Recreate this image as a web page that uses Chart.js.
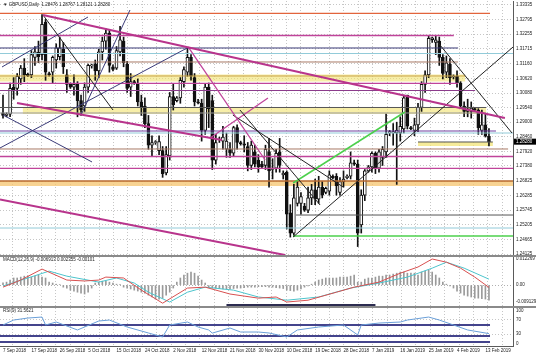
<!DOCTYPE html>
<html>
<head>
<meta charset="utf-8">
<script src="https://cdn.jsdelivr.net/npm/chart.js@4.4.0/dist/chart.umd.min.js"></script>
<style>
  html, body { margin: 0; padding: 0; background: #fff; }
  #wrap { position: relative; width: 536px; height: 358px; overflow: hidden; background: #fff; }
  #wrap canvas { position: absolute; left: 0; }
  .sep { position: absolute; left: 0; width: 536px; background: #8a8a8a; z-index: 5; }
</style>
</head>
<body>
<div id="wrap">
  <canvas id="mainChart" width="536" height="267" style="top:-5px"></canvas>
  <canvas id="macdChart" width="536" height="61" style="top:251px"></canvas>
  <canvas id="rsiChart" width="536" height="56" style="top:302px"></canvas>
  <div class="sep" style="top:255px;height:2px"></div>
  <div class="sep" style="top:306px;height:2px"></div>
</div>
<script>
// GBPUSD daily bars, 7 Sep 2018 .. 14 Feb 2019 (broker has Sunday bars)
var opens = [
  1.2935,1.2925,1.2930,1.3030,1.3025,1.3060,1.3100,1.3078,1.3075,1.3140,
  1.3158,1.3150,1.3270,1.3080,1.3085,1.3130,1.3142,1.3170,1.3075,1.3040,
  1.3030,1.3040,1.2980,1.2960,1.3030,1.3108,1.3115,1.3090,1.3160,1.3200,
  1.3230,1.3105,1.3100,1.3160,1.3200,1.3115,1.3030,1.3050,1.3045,1.2975,
  1.2960,1.2895,1.2815,1.2825,1.2795,1.2795,1.2712,1.2775,1.2995,1.2980,
  1.2990,1.3050,1.3085,1.3140,1.3065,1.2975,1.2970,1.2870,1.3030,1.2980,
  1.2760,1.2835,1.2830,1.2800,1.2800,1.2785,1.2880,1.2825,1.2820,1.2810,
  1.2740,1.2790,1.2760,1.2745,1.2740,1.2790,1.2725,1.2730,1.2790,1.2705,
  1.2715,1.2565,1.2490,1.2600,1.2600,1.2590,1.2575,1.2620,1.2650,1.2615,
  1.2660,1.2640,1.2645,1.2700,1.2700,1.2640,1.2680,1.2695,1.2700,1.2750,
  1.2745,1.2520,1.2630,1.2720,1.2735,1.2785,1.2730,1.2770,1.2790,1.2860,
  1.2860,1.2860,1.2860,1.2875,1.3000,1.2880,1.2870,1.2890,1.2955,1.3040,
  1.3075,1.3205,1.3195,1.3200,1.3140,1.3085,1.3115,1.3068,1.3070,1.3045,
  1.2960,1.2940,1.2940,1.2950,1.2945,1.2870,1.2890,1.28476
];
var highs = [
  1.3000,1.2935,1.3045,1.3065,1.3080,1.3110,1.3135,1.3082,1.3165,1.3180,
  1.3200,1.3298,1.3280,1.3085,1.3145,1.3190,1.3215,1.3195,1.3095,1.3045,
  1.3075,1.3050,1.3000,1.3045,1.3115,1.3115,1.3130,1.3170,1.3215,1.3245,
  1.3240,1.3112,1.3180,1.3255,1.3215,1.3125,1.3080,1.3055,1.3060,1.3000,
  1.2990,1.2925,1.2850,1.2832,1.2850,1.2810,1.2810,1.3010,1.3040,1.2995,
  1.3065,1.3105,1.3175,1.3150,1.3080,1.2985,1.2985,1.3040,1.3045,1.3000,
  1.2855,1.2845,1.2885,1.2860,1.2825,1.2885,1.2890,1.2830,1.2850,1.2825,
  1.2830,1.2815,1.2780,1.2755,1.2815,1.2840,1.2765,1.2800,1.2840,1.2720,
  1.2720,1.2595,1.2670,1.2685,1.2640,1.2600,1.2660,1.2670,1.2690,1.2700,
  1.2680,1.2660,1.2720,1.2705,1.2710,1.2695,1.2720,1.2705,1.2790,1.2760,
  1.2760,1.2650,1.2725,1.2740,1.2790,1.2790,1.2800,1.2810,1.2930,1.2870,
  1.2895,1.2900,1.2920,1.3000,1.3000,1.2885,1.2915,1.2970,1.3050,1.3090,
  1.3218,1.3215,1.3218,1.3215,1.3150,1.3145,1.3135,1.3075,1.3090,1.3050,
  1.2975,1.2985,1.2975,1.2955,1.2950,1.2945,1.2930,1.28767
];
var lows = [
  1.2915,1.2920,1.2920,1.2985,1.3000,1.3040,1.3050,1.3068,1.3065,1.3110,
  1.3120,1.3130,1.3055,1.3070,1.3045,1.3100,1.3130,1.3080,1.3010,1.3025,
  1.3000,1.2920,1.2925,1.2940,1.3010,1.3100,1.3055,1.3065,1.3130,1.3170,
  1.3085,1.3090,1.3095,1.3145,1.3105,1.3010,1.2995,1.3040,1.2960,1.2925,
  1.2880,1.2800,1.2775,1.2818,1.2780,1.2696,1.2705,1.2760,1.2945,1.2975,
  1.2970,1.3030,1.3070,1.3055,1.2960,1.2968,1.2830,1.2855,1.2880,1.2725,
  1.2745,1.2825,1.2800,1.2770,1.2770,1.2775,1.2800,1.2815,1.2790,1.2720,
  1.2725,1.2735,1.2715,1.2730,1.2725,1.2660,1.2690,1.2715,1.2715,1.2690,
  1.2505,1.2475,1.2477,1.2590,1.2560,1.2570,1.2565,1.2595,1.2595,1.2600,
  1.2620,1.2635,1.2630,1.2690,1.2630,1.2630,1.2660,1.2690,1.2690,1.2740,
  1.2440,1.2490,1.2610,1.2715,1.2715,1.2710,1.2715,1.2740,1.2770,1.2850,
  1.2815,1.2670,1.2830,1.2860,1.2875,1.2872,1.2850,1.2865,1.2940,1.3010,
  1.3065,1.3195,1.3150,1.3110,1.3060,1.3065,1.3040,1.3060,1.3030,1.2950,
  1.2920,1.2920,1.2915,1.2942,1.2855,1.2855,1.2845,1.28121
];
var closes = [
  1.2925,1.2930,1.3025,1.3020,1.3070,1.3100,1.3075,1.3072,1.3150,1.3160,
  1.3142,1.3262,1.3085,1.3075,1.3140,1.3175,1.3175,1.3105,1.3040,1.3030,
  1.3040,1.2980,1.2945,1.3030,1.3110,1.3112,1.3090,1.3160,1.3200,1.3230,
  1.3110,1.3095,1.3165,1.3205,1.3120,1.3025,1.3050,1.3045,1.2975,1.2955,
  1.2895,1.2815,1.2825,1.2828,1.2828,1.2710,1.2780,1.2995,1.2965,1.2990,
  1.3055,1.3095,1.3140,1.3070,1.2975,1.2972,1.2870,1.3030,1.2950,1.2760,
  1.2825,1.2838,1.2845,1.2830,1.2785,1.2880,1.2825,1.2820,1.2815,1.2740,
  1.2815,1.2745,1.2735,1.2735,1.2800,1.2720,1.2730,1.2785,1.2740,1.2712,
  1.2560,1.2490,1.2620,1.2660,1.2625,1.2575,1.2620,1.2650,1.2615,1.2660,
  1.2630,1.2655,1.2705,1.2695,1.2665,1.2680,1.2690,1.2700,1.2750,1.2745,
  1.2490,1.2630,1.2720,1.2735,1.2785,1.2730,1.2790,1.2800,1.2855,1.2865,
  1.2865,1.2870,1.2885,1.2990,1.2885,1.2876,1.2890,1.2955,1.3040,1.3075,
  1.3210,1.3212,1.3205,1.3140,1.3080,1.3120,1.3065,1.3070,1.3045,1.2960,
  1.2940,1.2945,1.2952,1.2946,1.2880,1.2890,1.2848,1.28280
];

// time axis labels (bar index where each label sits)
var dateIdx  = [0, 8, 16, 24, 32, 40, 48, 56, 64, 72, 80, 88, 96, 104, 112, 120, 128, 136];
var dateText = ['7 Sep 2018', '17 Sep 2018', '26 Sep 2018', '5 Oct 2018', '15 Oct 2018', '24 Oct 2018',
  '2 Nov 2018', '12 Nov 2018', '21 Nov 2018', '30 Nov 2018', '10 Dec 2018', '19 Dec 2018',
  '28 Dec 2018', '7 Jan 2019', '16 Jan 2019', '25 Jan 2019', '4 Feb 2019', '13 Feb 2019'];

var priceLabels = ['1.33335', '1.32795', '1.32255', '1.31715', '1.31160', '1.30620', '1.30080', '1.29540',
  '1.29000', '1.28460', '1.27920', '1.27380', '1.26825', '1.26285', '1.25745', '1.25205', '1.24665', '1.24125'];

// MACD histogram, one value per bar
var macdHist = [
  0.0010,0.0013,0.0022,0.0031,0.0031,0.0035,0.0039,0.0039,0.0035,0.0039,
  0.0044,0.0035,0.0031,0.0013,0.0009,0.0004,0.0002,-0.0009,-0.0013,-0.0022,
  -0.0026,-0.0031,-0.0035,-0.0039,-0.0031,-0.0013,0.0009,0.0013,0.0017,0.0017,
  0.0013,0.0009,0.0004,0.0002,-0.0009,-0.0013,-0.0017,-0.0022,-0.0026,-0.0031,
  -0.0035,-0.0044,-0.0052,-0.0061,-0.0061,-0.0057,-0.0044,-0.0031,-0.0013,0.0013,
  0.0031,0.0044,0.0052,0.0057,0.0052,0.0039,0.0022,0.0009,-0.0009,-0.0013,
  -0.0013,-0.0015,-0.0017,-0.0017,-0.0017,-0.0015,-0.0013,-0.0013,-0.0011,-0.0009,
  -0.0009,-0.0009,-0.0007,-0.0007,-0.0007,-0.0009,-0.0009,-0.0011,-0.0013,-0.0015,
  -0.0022,-0.0024,-0.0026,-0.0022,-0.0017,-0.0009,-0.0004,0.0004,0.0013,0.0022,
  0.0026,0.0031,0.0031,0.0031,0.0031,0.0035,0.0035,0.0035,0.0039,0.0044,
  0.0013,0.0013,0.0026,0.0031,0.0031,0.0035,0.0039,0.0039,0.0044,0.0044,
  0.0048,0.0052,0.0057,0.0057,0.0052,0.0052,0.0052,0.0044,0.0057,0.0061,
  0.0066,0.0057,0.0044,0.0031,0.0013,0.0004,-0.0004,-0.0013,-0.0026,-0.0035,
  -0.0044,-0.0048,-0.0052,-0.0057,-0.0057,-0.0059,-0.0061,-0.0066
];
var macdRedIdx = [0, 5, 11, 18, 23, 27, 29, 34, 39, 45, 52, 57, 64, 72, 77, 80, 86, 94, 99, 106, 112, 117, 121, 125, 129, 133, 137];
var macdRed = [-0.0009, 0.0022, 0.0070, 0.0022, 0.0018, 0.0022, 0.0035, 0.0031, -0.0022, -0.0079, -0.0013, -0.0009,
  -0.0039, -0.0057, -0.0052, -0.0074, -0.0066, -0.0031, -0.0009, 0.0013, 0.0052, 0.0079, 0.0114, 0.0100, 0.0074, 0.0035, -0.0010];
var macdTealIdx = [0, 13, 18, 27, 32, 37, 41, 47, 52, 57, 65, 72, 75, 80, 89, 98, 106, 114, 121, 125, 130, 137];
var macdTeal = [-0.0004, 0.0061, 0.0039, 0.0013, 0.0031, 0.0009, -0.0031, -0.0074, -0.0031, -0.0009, -0.0022, -0.0052,
  -0.0057, -0.0066, -0.0052, -0.0013, 0.0009, 0.0035, 0.0074, 0.0100, 0.0074, 0.0026];
var macdAxisText = ['0.012269', '0.00', '-0.009129'];

var rsiIdx = [0, 3, 7, 11, 12, 15, 21, 27, 30, 35, 41, 45, 47, 52, 55, 58, 59, 64, 67, 72, 75, 80, 83, 89, 96, 100, 101, 106, 112, 114, 120, 123, 127, 131, 137];
var rsiVals = [55.6, 69.4, 75, 77.8, 55.6, 63.9, 41.7, 66.7, 69.4, 50, 33.3, 22.2, 55.6, 63.9, 50, 41.7, 33, 47.2, 36, 36,
  33.3, 22.2, 41.7, 50, 55.6, 27.8, 55.6, 61, 63.9, 69.4, 77.8, 69.4, 55.6, 41.7, 31.56];
var rsiAxisText = ['100', '70', '30', '0'];
var rsiLevels = [55.6, 25, 8.3];

// drawn objects on the price chart: horizontal levels, shaded zones and trend lines
var levels = [
  { p: 1.33028, from: -1, to: 137.3, s: 'orange' },
  { p: 1.32207, from: -1, to: 127.1, s: 'magenta' },
  { p: 1.31745, from: -1, to: 128.3, s: 'navy' },
  { p: 1.31541, from: -1, to: 145, s: 'teal' },
  { p: 1.31227, from: -1, to: 128.3, s: 'brown' },
  { p: 1.30709, from: -1, to: 130.3, s: 'olive' },
  { p: 1.30439, from: -1, to: 128.3, s: 'magenta' },
  { p: 1.30173, from: -1, to: 133.1, s: 'purple' },
  { p: 1.29544, from: -1, to: 136.2, s: 'gray' },
  { p: 1.29340, from: -1, to: 136.2, s: 'lightGray' },
  { p: 1.28675, from: -1, to: 139, s: 'violet' },
  { p: 1.28600, from: -1, to: 145, s: 'teal' },
  { p: 1.28268, from: 117, to: 138.1, s: 'gray' },
  { p: 1.28009, from: -1, to: 142.4, s: 'brown' },
  { p: 1.27731, from: -1, to: 145, s: 'magenta' },
  { p: 1.27295, from: -1, to: 145, s: 'magenta' },
  { p: 1.26825, from: -1, to: 145, s: 'rust' },
  { p: 1.25567, from: 82.6, to: 145, s: 'gray' },
  { p: 1.25086, from: -1, to: 145, s: 'teal' },
  { p: 1.24791, from: 81.8, to: 145, s: 'green' }
];
var zones = [
  { p: 1.30635, from: -1, to: 130.3, s: 'yellowWide' },
  { p: 1.29414, from: 5.6, to: 136.2, s: 'yellowMid' },
  { p: 1.28194, from: 117, to: 138.1, s: 'yellowNarrow' },
  { p: 1.26733, from: -1, to: 145, s: 'orangeZone' }
];
var trends = [
  { i1: 11.28, p1: 1.32965, i2: 141.5, p2: 1.29155, s: 'magentaThick' },
  { i1: 3.95, p1: 1.29710, i2: 61.7, p2: 1.28342, s: 'magentaThick' },
  { i1: -0.85, p1: 1.26145, i2: 79.5, p2: 1.24088, s: 'magentaThick' },
  { i1: 11.28, p1: 1.32965, i2: 31.0, p2: 1.29451, s: 'dark' },
  { i1: -0.28, p1: 1.31042, i2: 23.96, p2: 1.32891, s: 'navy' },
  { i1: -0.85, p1: 1.28046, i2: 51.9, p2: 1.31745, s: 'navy' },
  { i1: 0, p1: 1.29266, i2: 25.1, p2: 1.27528, s: 'navy' },
  { i1: 21.99, p1: 1.29266, i2: 35.8, p2: 1.33150, s: 'navy' },
  { i1: 52.2, p1: 1.31782, i2: 73.9, p2: 1.27602, s: 'magenta' },
  { i1: 64.8, p1: 1.29266, i2: 95.9, p2: 1.26603, s: 'dark' },
  { i1: 66.8, p1: 1.29451, i2: 89.4, p2: 1.25937, s: 'dark' },
  { i1: 58.4, p1: 1.28416, i2: 74.7, p2: 1.29895, s: 'magenta' },
  { i1: 81.8, p1: 1.24754, i2: 143.8, p2: 1.31782, s: 'dark' },
  { i1: 81.8, p1: 1.26751, i2: 113.3, p2: 1.29377, s: 'green' },
  { i1: 121.8, p1: 1.32077, i2: 143.5, p2: 1.28600, s: 'dark' }
];
var macdMarks = [{ i1: 63, i2: 105, v: -0.0087 }];

var styles = {
  orange: { color: '#e2643c', width: 1.2 },
  magenta: { color: '#c0449a', width: 1.3 },
  magentaThick: { color: '#b8348c', width: 2 },
  navy: { color: '#3b3b78', width: 1 },
  teal: { color: '#92cbd9', width: 1 },
  brown: { color: '#a87a66', width: 1 },
  olive: { color: '#c9a24a', width: 1 },
  purple: { color: '#8c3c8c', width: 1.2 },
  gray: { color: '#555555', width: 1 },
  lightGray: { color: '#999999', width: 1 },
  violet: { color: '#7040a0', width: 1.2 },
  rust: { color: '#b86a30', width: 1.5 },
  green: { color: '#4cd04c', width: 1.5 },
  dark: { color: '#222222', width: 1 },
  yellowWide: { color: 'rgba(242,226,110,0.6)', width: 7 },
  yellowMid: { color: 'rgba(242,226,110,0.6)', width: 6 },
  yellowNarrow: { color: 'rgba(242,226,110,0.7)', width: 4 },
  orangeZone: { color: 'rgba(246,196,110,0.75)', width: 5 },
  macdMark: { color: '#2c2c50', width: 2 },
  rsiLevel: { color: '#44448c', width: 2 }
};

var FONT = "'Liberation Sans', Arial, sans-serif";
var FS = 4.5;
var AXIS_W = 23;
var X_MIN = -0.846, X_MAX = 143.78;
var P_MIN = 1.240511, P_MAX = 1.334829;

var gridIdx = [];
for (var g = 2.73; g < X_MAX; g += 4.06) gridIdx.push(g);

function segment(x1, y1, x2, y2, st, order) {
  return {
    type: 'line',
    data: [{ x: x1, y: y1 }, { x: x2, y: y2 }],
    borderColor: st.color,
    borderWidth: st.width,
    pointRadius: 0,
    fill: false,
    tension: 0,
    order: order
  };
}

function xGridScale() {
  return {
    type: 'linear', min: X_MIN, max: X_MAX, offset: false,
    afterBuildTicks: function (s) { s.ticks = gridIdx.map(function (v) { return { value: v }; }); },
    afterFit: function (s) { s.height = 0; },
    ticks: { display: false },
    grid: { color: '#c6c6c6', drawTicks: false, offset: false },
    border: { display: false, dash: [1, 2] }
  };
}

function yAxis(min, max, tickPos, tickText, gridColor) {
  return {
    type: 'linear', position: 'right', min: min, max: max, beginAtZero: false,
    afterBuildTicks: function (s) { s.ticks = tickPos.map(function (v) { return { value: v }; }); },
    afterFit: function (s) { s.width = AXIS_W; },
    ticks: { padding: 3, color: '#222', callback: function (v, i) { return tickText[i]; } },
    grid: { drawTicks: false, color: gridColor },
    border: { display: true, color: '#5a5a5a', width: 1, dash: [1, 2] }
  };
}

var panelText = {
  id: 'panelText',
  afterDraw: function (chart, args, opts) {
    var ctx = chart.ctx, area = chart.chartArea;
    ctx.save();
    ctx.font = FS + 'px ' + FONT;
    ctx.textBaseline = 'middle';
    ctx.fillStyle = '#222';
    if (opts.title) ctx.fillText(opts.title, area.left + 3, area.top + opts.titleDy);
    if (opts.lastPrice) {
      var y = chart.scales.y.getPixelForValue(opts.lastPrice);
      ctx.fillStyle = '#000';
      ctx.fillRect(area.right + 1, y - 3, AXIS_W - 1, 6);
      ctx.fillStyle = '#fff';
      ctx.fillText(opts.lastPrice.toFixed(5), area.right + 3, y + 0.3);
    }
    ctx.restore();
  }
};

Chart.defaults.font.family = FONT;
Chart.defaults.font.size = FS;
Chart.defaults.color = '#222';

var baseOptions = function (pad, textOpts) {
  return {
    responsive: false, animation: false, events: [],
    layout: { padding: pad },
    plugins: { legend: { display: false }, tooltip: { enabled: false }, panelText: textOpts }
  };
};

// ---------- price chart ----------
var mainSets = [];
mainSets.push({
  type: 'bar',
  data: opens.map(function (o, i) { return { x: i, y: [o, closes[i]] }; }),
  backgroundColor: opens.map(function (o, i) { return closes[i] >= o ? '#ffffff' : '#111111'; }),
  borderColor: '#111111', borderWidth: 1, borderSkipped: false,
  barThickness: 3, grouped: false, order: 4
});
mainSets.push({
  type: 'bar',
  data: lows.map(function (l, i) { return { x: i, y: [l, highs[i]] }; }),
  backgroundColor: '#111111', barThickness: 1, grouped: false, order: 5
});
zones.forEach(function (z) { mainSets.push(segment(z.from, z.p, z.to, z.p, styles[z.s], 10)); });
levels.forEach(function (l) { mainSets.push(segment(l.from, l.p, l.to, l.p, styles[l.s], 2)); });
trends.forEach(function (t) { mainSets.push(segment(t.i1, t.p1, t.i2, t.p2, styles[t.s], 1)); });

var mainOpts = baseOptions({ top: 6, bottom: 6, left: 0, right: 0 },
  { title: '\u25BC GBPUSD,Daily  1.28476 1.28767 1.28121 1.28280', titleDy: 4, lastPrice: closes[closes.length - 1] });
mainOpts.scales = {
  x: xGridScale(),
  y: yAxis(P_MIN, P_MAX, priceLabels.map(parseFloat), priceLabels, '#c6c6c6')
};
new Chart(document.getElementById('mainChart'), {
  type: 'bar', data: { datasets: mainSets }, plugins: [panelText], options: mainOpts
});

// ---------- MACD ----------
var macdSets = [
  {
    type: 'line',
    data: macdRedIdx.map(function (x, k) { return { x: x, y: macdRed[k] }; }),
    borderColor: '#d85050', borderWidth: 1, pointRadius: 0, tension: 0, order: 1
  },
  {
    type: 'line',
    data: macdTealIdx.map(function (x, k) { return { x: x, y: macdTeal[k] }; }),
    borderColor: '#4cc4cc', borderWidth: 1, pointRadius: 0, tension: 0, order: 2
  },
  {
    type: 'bar',
    data: macdHist.map(function (v, i) { return { x: i, y: v }; }),
    backgroundColor: '#9a9a9a', barThickness: 1, grouped: false, order: 5
  }
];
macdMarks.forEach(function (m) { macdSets.push(segment(m.i1, m.v, m.i2, m.v, styles.macdMark, 3)); });

var macdOpts = baseOptions({ top: 6, bottom: 6, left: 0, right: 0 },
  { title: 'MACD(12,26,9) -0.006913 0.002355 -0.00101', titleDy: 3 });
macdOpts.scales = {
  x: xGridScale(),
  y: yAxis(-0.009129, 0.012269, [0.0113, 0, -0.0074], macdAxisText,
    function (c) { return c.tick && c.tick.value === 0 ? '#b0b0b0' : 'rgba(0,0,0,0)'; })
};
new Chart(document.getElementById('macdChart'), {
  type: 'bar', data: { datasets: macdSets }, plugins: [panelText], options: macdOpts
});

// ---------- RSI ----------
var rsiSets = [
  {
    type: 'line',
    data: rsiIdx.map(function (x, k) { return { x: x, y: rsiVals[k] }; }),
    borderColor: '#6a9fd8', borderWidth: 1, pointRadius: 0, tension: 0, order: 1
  }
];
rsiLevels.forEach(function (v) { rsiSets.push(segment(-1, v, 137.3, v, styles.rsiLevel, 3)); });

var rsiOpts = baseOptions({ top: 6, bottom: 0, left: 0, right: 0 },
  { title: 'RSI(9) 31.5621', titleDy: 3 });
rsiOpts.scales = {
  x: xGridScale(),
  x2: {
    type: 'linear', position: 'bottom', min: X_MIN, max: X_MAX, offset: false,
    afterBuildTicks: function (s) { s.ticks = dateIdx.map(function (v) { return { value: v }; }); },
    afterFit: function (s) { s.height = 12; },
    ticks: { align: 'start', padding: 2, maxRotation: 0, autoSkip: false, color: '#222',
      callback: function (v, i) { return dateText[i]; } },
    grid: { display: false, drawTicks: false },
    border: { display: true, color: '#5a5a5a', width: 1 }
  },
  y: yAxis(-3, 103, [95, 70, 30, 3], rsiAxisText,
    function (c) { return c.tick && (c.tick.value === 70 || c.tick.value === 30) ? '#c6c6c6' : 'rgba(0,0,0,0)'; })
};
new Chart(document.getElementById('rsiChart'), {
  type: 'line', data: { datasets: rsiSets }, plugins: [panelText], options: rsiOpts
});
</script>
</body>
</html>
